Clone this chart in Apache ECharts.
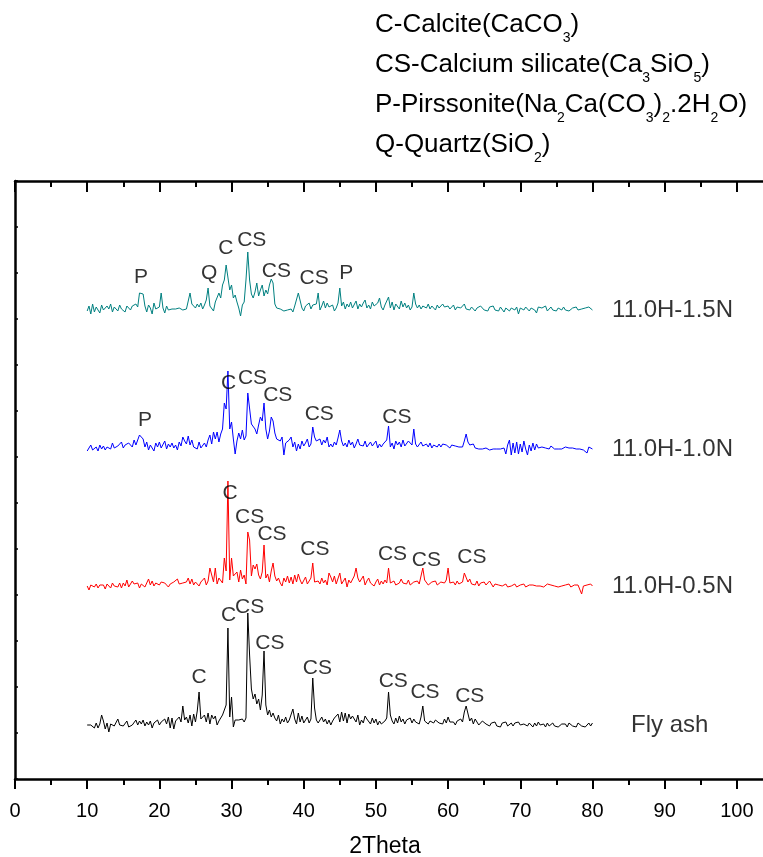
<!DOCTYPE html>
<html>
<head>
<meta charset="utf-8">
<script src="https://cdn.jsdelivr.net/npm/echarts@6/dist/echarts.min.js"></script>
<style>
  html, body { margin: 0; padding: 0; background: #fff; }
  #main { width: 763px; height: 857px; }
</style>
</head>
<body>
<div id="main"></div>
<script>
// scan: 10-80 deg 2theta, 0.25 deg step
const scanStart = 10;
const scanStep = 0.25;

// intensities (arbitrary units, one row = two degrees)
const flyAsh = [
  10,10,10,9, 7,12,7,11,
  20,14,6,12, 3,11,13,9,
  10,16,10,11, 9,10,14,8,
  10,10,9,15, 10,14,11,15,
  9,13,10,14, 7,12,12,15,
  10,13,12,16, 11,18,7,17,
  6,14,12,18, 13,29,15,18,
  12,20,9,21, 13,24,43,16,
  18,20,13,22, 11,20,16,19,
  10,14,16,20, 20,30,107,18,
  38,8,15,14, 15,14,16,13,
  17,122,80,46, 36,41,31,36,
  25,40,84,30, 20,25,18,22,
  17,14,20,11, 16,13,18,12,
  15,14,26,16, 11,22,13,19,
  12,14,18,12, 16,57,27,15,
  12,14,18,13, 16,11,15,10,
  14,17,16,21, 13,23,14,22,
  12,21,16,19, 18,13,20,10,
  15,12,19,16, 14,11,17,12,
  16,10,14,11, 13,14,17,43,
  20,14,11,17, 12,19,13,16,
  11,15,13,17, 12,16,13,14,
  11,18,29,14, 16,11,14,13,
  12,15,13,12, 12,11,16,12,
  18,13,12,13, 10,14,12,16,
  13,23,29,27, 14,17,11,16,
  13,10,12,14, 12,11,13,9,
  12,10,13,9, 11,8,12,10,
  13,9,11,12, 9,12,10,13,
  10,8,11,12, 9,12,10,8,
  12,9,13,10, 10,11,8,12,
  9,10,12,9, 11,8,10,11,
  9,11,8,12, 10,9,11,8,
  12,10,9,11, 8,10,12,9,
  12
];
const h05 = [
  10,6,11,12, 9,12,8,11,
  10,11,7,12, 11,8,13,10,
  12,9,13,8, 13,10,16,9,
  11,15,12,10, 13,8,12,14,
  9,13,17,11, 15,10,13,12,
  11,14,12,13, 15,9,12,11,
  14,13,17,12, 12,13,11,14,
  18,12,17,11, 14,16,10,14,
  12,18,11,15, 28,27,14,28,
  12,18,16,13, 38,25,115,16,
  38,20,18,24, 14,26,17,21,
  12,64,56,20, 31,27,32,21,
  17,24,51,18, 22,14,25,33,
  20,15,18,13, 10,18,14,20,
  13,19,12,21, 14,22,16,12,
  13,19,12,15, 18,33,14,12,
  15,12,18,13, 16,11,23,19,
  14,20,12,14, 23,12,10,18,
  9,16,13,12, 20,28,18,14,
  12,20,11,15, 18,13,15,10,
  14,17,11,15, 12,16,13,28,
  13,12,15,11, 12,13,17,13,
  14,12,16,11, 13,14,12,15,
  12,14,28,16, 15,11,12,14,
  12,15,11,13, 14,12,13,16,
  28,13,12,14, 11,15,12,13,
  14,23,23,14, 17,12,14,11,
  15,10,13,12, 14,11,12,15,
  13,9,12,10, 11,13,10,12,
  12,9,11,10, 10,12,9,11,
  11,10,12,9, 10,11,9,11,
  9,10,12,10, 11,9,10,12,
  10,11,9,10, 12,9,11,10,
  10,11,9,12, 9,10,11,10,
  11,9,2,10, 10,11,9,12,
  10
];
const h10 = [
  8,10,14,9, 11,12,8,14,
  10,13,9,12, 14,10,16,11,
  9,13,12,17, 11,14,12,16,
  18,12,19,14, 15,24,24,20,
  12,17,9,14, 13,8,16,12,
  17,11,13,18, 10,15,12,16,
  11,14,9,17, 13,22,18,15,
  23,14,19,12, 14,10,17,11,
  9,16,12,19, 24,15,27,20,
  27,17,25,30, 56,50,88,30,
  37,20,5,18, 26,20,29,19,
  23,66,66,35, 34,30,25,34,
  42,38,56,30, 20,28,42,38,
  26,20,22,18, 22,4,16,14,
  19,22,12,17, 8,15,10,18,
  13,16,20,12, 15,32,22,18,
  18,20,14,19, 16,22,12,15,
  12,17,14,21, 29,18,13,16,
  12,19,14,17, 11,15,20,14,
  16,13,18,12, 14,17,13,15,
  18,11,15,12, 15,13,19,33,
  12,16,10,18, 14,17,12,19,
  13,11,18,16, 14,30,15,12,
  11,17,13,14, 15,12,16,11,
  14,16,12,15, 12,15,13,14,
  16,11,14,12, 13,15,12,14,
  12,18,25,17, 14,12,15,11,
  12,10,10,10, 10,11,10,9,
  10,10,11,10, 9,10,10,11,
  5,14,19,4, 16,6,17,5,
  15,7,18,10, 4,14,8,16,
  9,15,11,10, 12,10,11,12,
  10,13,11,10, 12,10,11,10,
  11,12,10,11, 10,11,12,10,
  12,10,11,9, 10,6,12,10,
  10
];
const h15 = [
  9,14,6,16, 8,13,12,7,
  15,10,9,14, 11,16,8,13,
  12,9,15,11, 13,8,14,12,
  10,14,12,16, 13,27,27,26,
  14,8,15,12, 6,17,11,9,
  13,27,12,7, 14,10,12,11,
  12,11,10,12, 13,10,12,11,
  11,27,16,14, 12,16,13,17,
  11,15,20,32, 14,12,9,18,
  16,27,22,35, 40,55,55,30,
  35,22,25,18, 12,4,15,18,
  40,68,40,26, 22,28,37,24,
  30,35,24,30, 26,35,41,37,
  16,12,10,11, 13,9,11,10,
  12,11,8,14, 15,27,26,12,
  9,14,12,17, 11,15,13,16,
  27,10,14,19, 12,17,13,11,
  15,9,12,17, 32,14,18,11,
  16,13,18,12, 14,19,11,16,
  13,17,20,12, 15,11,18,14,
  12,17,22,13, 10,15,16,23,
  12,18,10,16, 14,11,19,13,
  17,12,15,10, 13,27,16,12,
  15,11,14,13, 12,16,11,14,
  13,10,15,12, 11,16,13,12,
  14,11,12,15, 10,13,11,12,
  14,16,11,12, 10,13,15,9,
  12,11,14,12, 10,12,9,13,
  11,14,10,12, 9,13,11,8,
  12,14,9,12, 11,10,13,6,
  12,14,10,13, 11,9,12,14,
  10,7,13,11, 12,10,14,9,
  11,13,10,12, 9,12,11,10,
  13,10,12,9, 11,12,10,13,
  10,12,11,9, 12,10,13,11,
  10
];

const sampleNames = ['Fly ash', '11.0H-0.5N', '11.0H-1.0N', '11.0H-1.5N'];
const sampleData = [flyAsh, h05, h10, h15];
const sampleColors = ['#000000', '#ff0000', '#0000ff', '#008080'];
const stackOffsets = [44, 183, 320, 459];
const nameTheta = [90.7, 91.1, 91.1, 91.1];

// phase labels: [2theta, height, text]
const peakLabels = [
  [25.5, 102, 'C'], [29.6, 164, 'C'], [32.5, 172, 'CS'], [35.3, 136, 'CS'],
  [41.9, 111, 'CS'], [52.4, 98, 'CS'], [56.8, 87, 'CS'], [63.0, 83, 'CS'],
  [29.8, 286, 'C'], [32.5, 262, 'CS'], [35.6, 245, 'CS'], [41.55, 230, 'CS'],
  [52.3, 225, 'CS'], [57.0, 219, 'CS'], [63.3, 222, 'CS'],
  [18.0, 359, 'P'], [29.6, 396, 'C'], [32.9, 401, 'CS'], [36.4, 384, 'CS'],
  [42.15, 365, 'CS'], [52.9, 362, 'CS'],
  [17.45, 502, 'P'], [26.9, 506, 'Q'], [29.2, 531, 'C'], [32.8, 539, 'CS'],
  [36.2, 508, 'CS'], [41.45, 501, 'CS'], [45.9, 506, 'P']
];

const FONT = 'Liberation Sans, Arial, sans-serif';

let chart = echarts.init(document.getElementById('main'), null, { renderer: 'canvas' });

let series = sampleData.map(function (arr, k) {
  return {
    name: sampleNames[k],
    type: 'line',
    showSymbol: false,
    symbol: 'none',
    lineStyle: { color: sampleColors[k], width: 1 },
    itemStyle: { color: sampleColors[k] },
    data: arr.map(function (v, i) {
      return [scanStart + i * scanStep, stackOffsets[k] + v];
    }),
    z: 2,
  };
});

series.push({
  type: 'scatter',
  symbolSize: 0,
  silent: true,
  data: peakLabels.map(function (p) { return { value: [p[0], p[1]], name: p[2] }; }),
  label: {
    show: true,
    position: [0, 0],
    align: 'center',
    verticalAlign: 'middle',
    formatter: '{b}',
    fontSize: 21,
    fontFamily: FONT,
    color: '#000',
  },
  z: 3,
});

series.push({
  type: 'scatter',
  symbolSize: 0,
  silent: true,
  data: sampleNames.map(function (n, k) {
    return { value: [nameTheta[k], stackOffsets[k] + 10], name: n };
  }),
  label: {
    show: true,
    position: [0, 0],
    align: 'center',
    verticalAlign: 'middle',
    formatter: '{b}',
    fontSize: 24,
    fontFamily: FONT,
    color: '#000',
  },
  z: 3,
});

let option = {
  animation: false,
  backgroundColor: '#fff',
  grid: { left: 15, top: 181, width: 794, height: 598, outerBoundsMode: 'none', containLabel: false },
  xAxis: [
    {
      type: 'value',
      position: 'bottom',
      min: 0,
      max: 110,
      interval: 10,
      name: '2Theta',
      nameLocation: 'middle',
      nameGap: 56,
      nameTextStyle: { fontSize: 23, fontFamily: FONT, color: '#000', padding: [0, 54, 0, 0] },
      axisLine: { lineStyle: { color: '#000', width: 2.5 } },
      axisTick: { length: 10, lineStyle: { color: '#000', width: 2 } },
      minorTick: { show: true, splitNumber: 2, length: 6, lineStyle: { color: '#000', width: 2 } },
      axisLabel: { fontSize: 20, fontFamily: FONT, color: '#000', margin: 22, showMaxLabel: false },
      splitLine: { show: false },
    },
    {
      type: 'value',
      position: 'top',
      min: 0,
      max: 110,
      interval: 10,
      axisLine: { lineStyle: { color: '#000', width: 2.5 } },
      axisTick: { inside: true, length: 11, lineStyle: { color: '#000', width: 2 } },
      minorTick: { show: true, splitNumber: 2, length: 6, lineStyle: { color: '#000', width: 2 } },
      axisLabel: { show: false },
      splitLine: { show: false },
    },
  ],
  yAxis: {
    type: 'value',
    min: 0,
    max: 598,
    interval: 46,
    axisLine: { show: true, lineStyle: { color: '#000', width: 2.5 } },
    axisTick: { show: true, inside: true, length: 3, lineStyle: { color: '#000', width: 1.5 } },
    axisLabel: { show: false },
    splitLine: { show: false },
  },
  graphic: [
    {
      type: 'text',
      left: 375,
      top: 12,
      style: {
        text: '{m|C-Calcite(CaCO}{s|3}{m|)}\n' +
              '{m|CS-Calcium silicate(Ca}{s|3}{m|SiO}{s|5}{m|)}\n' +
              '{m|P-Pirssonite(Na}{s|2}{m|Ca(CO}{s|3}{m|)}{s|2}{m|.2H}{s|2}{m|O)}\n' +
              '{m|Q-Quartz(SiO}{s|2}{m|)}',
        rich: {
          m: { fontSize: 26, fontFamily: FONT, fill: '#000', lineHeight: 40 },
          s: { fontSize: 14, fontFamily: FONT, fill: '#000', lineHeight: 16, verticalAlign: 'bottom' },
        },
      },
    },
  ],
  series: series,
};

chart.setOption(option);
window.addEventListener('resize', chart.resize);
</script>
</body>
</html>
